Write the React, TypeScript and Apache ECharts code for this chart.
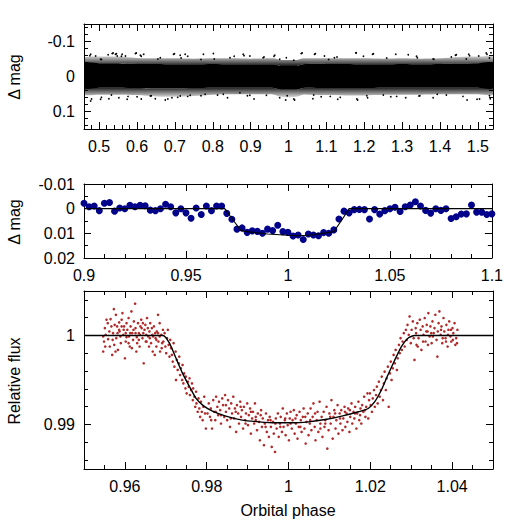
import React, { useEffect, useRef } from 'react';
import * as echarts from 'echarts';

const FONT = '"Liberation Sans", Arial, Helvetica, sans-serif';

// ---------- Panel 1 (full light curve) ----------
const topXTicks = [0.5, 0.6, 0.7, 0.8, 0.9, 1, 1.1, 1.2, 1.3, 1.4, 1.5];
const topYTicks = [-0.1, 0, 0.1];
const bandPhase = [0.46, 0.5, 0.55, 0.6, 0.65, 0.7, 0.75, 0.8, 0.85, 0.9, 0.95, 0.962, 0.975, 0.99, 1.01, 1.025, 1.038, 1.05, 1.1, 1.15, 1.2, 1.25, 1.3, 1.35, 1.4, 1.45, 1.5, 1.54];
const bandFringeTop = [-0.054, -0.057, -0.057, -0.053, -0.052, -0.052, -0.051, -0.052, -0.052, -0.051, -0.052, -0.052, -0.048, -0.047, -0.047, -0.048, -0.052, -0.052, -0.052, -0.052, -0.052, -0.051, -0.052, -0.051, -0.052, -0.056, -0.057, -0.058];
const bandCoreTop = [-0.037, -0.038, -0.038, -0.036, -0.036, -0.035, -0.035, -0.036, -0.035, -0.035, -0.035, -0.035, -0.031, -0.030, -0.030, -0.031, -0.035, -0.036, -0.036, -0.036, -0.035, -0.035, -0.036, -0.035, -0.036, -0.037, -0.038, -0.038];
const bandCoreBottom = [0.032, 0.032, 0.032, 0.033, 0.034, 0.034, 0.033, 0.032, 0.032, 0.032, 0.032, 0.033, 0.037, 0.038, 0.038, 0.037, 0.033, 0.032, 0.033, 0.033, 0.033, 0.032, 0.032, 0.032, 0.032, 0.032, 0.032, 0.032];
const bandFringeBottom = [0.052, 0.052, 0.052, 0.053, 0.057, 0.058, 0.056, 0.052, 0.051, 0.051, 0.051, 0.052, 0.057, 0.059, 0.059, 0.057, 0.052, 0.052, 0.053, 0.054, 0.054, 0.052, 0.052, 0.052, 0.051, 0.051, 0.051, 0.052];
const topOutliers: [number, number][] = [
  [0.4755, -0.0596], [0.5061, -0.0484], [0.5236, -0.0624], [0.5368, -0.0671], [0.5455, -0.0653], [0.5587, -0.0577], [0.5981, -0.0671], [0.6112, -0.0577], [0.655, -0.0502], [0.6988, -0.0653], [0.7163, -0.0531], [0.7688, -0.0484], [0.8039, -0.0502], [0.8564, -0.0577], [0.8827, -0.0596], [0.9352, -0.0559], [0.9615, -0.0577], [1.0359, -0.0671], [1.0709, -0.0653], [1.106, -0.0484], [1.1279, -0.0559], [1.1786, -0.0671], [1.2242, -0.0653], [1.2592, -0.0531], [1.3161, -0.0624], [1.338, -0.0577], [1.3818, -0.0502], [1.4299, -0.0559], [1.4431, -0.0624], [1.4781, -0.0596], [1.5219, -0.0671], [1.5306, -0.0531], [1.4694, -0.0502], [1.1979, -0.0577], [1.014, -0.0465], [0.7338, -0.0577],
  [0.4799, 0.0643], [0.5061, 0.0596], [0.5324, 0.0531], [0.5762, 0.0568], [0.6112, 0.0643], [0.6375, 0.0549], [0.6813, 0.0643], [0.7075, 0.0596], [0.7338, 0.0568], [0.7688, 0.0549], [0.8126, 0.0531], [0.8389, 0.0606], [0.8914, 0.0549], [0.9089, 0.0643], [0.9965, 0.0549], [1.014, 0.0643], [1.0665, 0.0531], [1.1103, 0.0568], [1.1366, 0.0596], [1.1804, 0.0643], [1.2067, 0.0549], [1.2504, 0.0531], [1.2855, 0.0568], [1.3468, 0.0549], [1.3818, 0.0606], [1.4168, 0.0531], [1.4606, 0.0568], [1.5044, 0.0643], [1.5306, 0.0549],
  [0.4775, -0.0633], [0.4907, -0.0586], [0.5038, -0.049], [0.5344, -0.066], [0.5432, -0.0633], [0.5476, -0.0586], [0.5607, -0.0633], [0.5695, -0.0586], [0.5957, -0.066], [0.6089, -0.0605], [0.6176, -0.0633], [0.6614, -0.0538], [0.6965, -0.0633], [0.714, -0.0605], [0.7271, -0.0633], [0.7753, -0.0633], [0.8016, -0.066], [0.8454, -0.0538], [0.8804, -0.0633], [0.8979, -0.0586], [0.9329, -0.0538], [0.9636, -0.0605], [0.9767, -0.049], [0.9942, -0.0538],
  [0.4775, 0.07], [0.5038, 0.0652], [0.5257, 0.0633], [0.552, 0.0605], [0.5739, 0.0652], [0.6001, 0.0576], [0.6352, 0.0557], [0.6483, 0.0633], [0.6746, 0.0671], [0.6921, 0.0605], [0.714, 0.0557], [0.7403, 0.0538], [0.7797, 0.051], [0.8278, 0.051], [0.8716, 0.0462], [0.8979, 0.0538], [0.9417, 0.0538], [0.9767, 0.0605], [0.9925, 0.0671],
  [1.0336, -0.066], [1.0687, -0.0633], [1.0949, -0.0586], [1.1212, -0.0538], [1.1781, -0.0681], [1.2219, -0.0633], [1.2832, -0.0633], [1.3402, -0.0538], [1.3839, -0.049], [1.4409, -0.0605], [1.4759, -0.0633], [1.5022, -0.0586], [1.5241, -0.0633], [1.5346, -0.0681],
  [1.0161, 0.0671], [1.0643, 0.0633], [1.0862, 0.0576], [1.13, 0.0652], [1.1825, 0.0671], [1.2088, 0.0605], [1.2701, 0.0576], [1.3095, 0.0605], [1.3445, 0.0557], [1.3927, 0.051], [1.4715, 0.0671], [1.4978, 0.0652], [1.5328, 0.0633],
];

// ---------- Panel 2 (binned) ----------
const midXTicks = [0.9, 0.95, 1, 1.05, 1.1];
const midYTicks = [-0.01, 0, 0.01, 0.02];
const midPhase = [0.9, 0.9025, 0.905, 0.9075, 0.91, 0.9125, 0.915, 0.9175, 0.92, 0.9225, 0.925, 0.9275, 0.93, 0.9325, 0.935, 0.9375, 0.94, 0.9425, 0.945, 0.9475, 0.95, 0.9525, 0.955, 0.9575, 0.96, 0.9625, 0.965, 0.9675, 0.97, 0.9725, 0.975, 0.9775, 0.98, 0.9825, 0.985, 0.9875, 0.99, 0.9925, 0.995, 0.9975, 1.0, 1.0025, 1.005, 1.0075, 1.01, 1.0125, 1.015, 1.0175, 1.02, 1.0225, 1.025, 1.0275, 1.03, 1.0325, 1.035, 1.0375, 1.04, 1.0425, 1.045, 1.0475, 1.05, 1.0525, 1.055, 1.0575, 1.06, 1.0625, 1.065, 1.0675, 1.07, 1.0725, 1.075, 1.0775, 1.08, 1.0825, 1.085, 1.0875, 1.09, 1.0925, 1.095, 1.0975, 1.1];
const midMag = [-0.0022, -0.0008, -0.0011, 0.0008, -0.0022, -0.0025, 0.001, -0.0003, 0, -0.0014, -0.0008, -0.0014, -0.0012, 0.0006, 0.0008, 0, -0.0018, -0.0008, 0.0017, 0, 0.0017, 0.0039, -0.0003, 0.0024, -0.0011, 0.0008, -0.0011, -0.0011, 0.0019, 0.0043, 0.0083, 0.0078, 0.0096, 0.009, 0.0092, 0.01, 0.0083, 0.0089, 0.0067, 0.0093, 0.0096, 0.0111, 0.0107,
  0.0125, 0.0103, 0.0107, 0.011, 0.0097, 0.01, 0.0086, 0.0042, 0.001, 0.0017, 0.0004, 0.0003, 0.0004, 0.0042, 0.0004, 0.0022, 0.0008, 0, -0.0006, 0.0011, -0.0008, -0.0015, -0.0028, -0.0011, 0.0007, 0.0018, 0, 0.0007, 0, 0.004, 0.0033, 0.0022, 0.0021, -0.0015, 0.0014, 0.0014, 0.0024, 0.0021];
const midModel: [number, number][] = [[0.9, 0], [0.969, 0], [0.973, 0.0045], [0.977, 0.0089], [0.98, 0.0093], [0.99, 0.0103], [1.0, 0.0108], [1.005, 0.011], [1.01, 0.0108], [1.018, 0.0099], [1.0225, 0.0093], [1.0265, 0.0045], [1.03, 0], [1.1, 0]];

// ---------- Panel 3 (relative flux) ----------
const botXTicks = [0.96, 0.98, 1, 1.02, 1.04];
const botYTicks = [0.99, 1];
const redPre: [number, number][] = [
  [0.9547, 0.99989], [0.9549, 0.99932], [0.9547, 0.9982], [0.9551, 1.00083], [0.9555, 1.00177], [0.9558, 1.00139], [0.9562, 1.00045], [0.9563, 0.99876], [0.9565, 1.00184], [0.9569, 0.99782], [0.9571, 1.00026], [0.9573, 1.00297], [0.9575, 1.0012], [0.9578, 1.00233], [0.9579, 0.9997], [0.9581, 1.00102], [0.9583, 0.99838], [0.9586, 1.00147], [0.9587, 1.00045], [0.959, 0.99914], [0.9592, 1.00177], [0.9594, 1.00252], [0.9596, 1.00008], [0.9598, 1.00102], [0.96, 0.99744], [0.9602, 0.99932], [0.9604, 1.00139], [0.9606, 1.00064], [0.9609, 1.00196], [0.961, 0.99989], [0.9612, 0.99876], [0.9614, 1.00102], [0.9616, 1.00271], [0.9618, 1.00026], [0.962, 0.99951], [0.9622, 1.00158], [0.9625, 1.00357], [0.9626, 1.00083], [0.9628, 0.9982], [0.963, 0.99914], [0.9632, 1.00139], [0.9634, 1.00026], [0.9636, 0.99876], [0.9638, 1.00102], [0.964, 1.00177], [0.9643, 0.9997], [0.9644, 1.00139], [0.9646, 0.99688], [0.9648, 1.00064], [0.9651, 0.99932], [0.9652, 1.00008], [0.9654, 1.00196], [0.9656, 1.00083], [0.9659, 0.99876], [0.966, 1.00045], [0.9662, 1.00139], [0.9664, 0.99914], [0.9667, 1.00008], [0.9668, 0.9982], [0.9671, 1.00102], [0.9673, 0.99782], [0.9675, 0.9997], [0.9677, 0.99876], [0.9678, 1.00045], [0.9681, 1.00233], [0.9682, 0.99932], [0.9685, 1.00139], [0.9686, 0.9982], [0.9689, 1.00008], [0.9691, 0.99914], [0.9693, 1.00064],
  [0.9553, 1.00008], [0.9559, 0.99959], [0.9567, 1.00102], [0.9574, 0.99895], [0.9582, 1.00026], [0.9589, 0.99989], [0.9597, 1.00064], [0.9604, 0.99981], [0.9613, 1.00026], [0.9621, 1.00064], [0.9629, 0.99981], [0.9637, 1.00008], [0.9645, 1.00026], [0.9653, 0.99932], [0.9661, 0.9997], [0.9669, 0.99989], [0.9677, 0.99951], [0.9685, 0.99989], [0.9552, 0.99876], [0.9577, 0.9982], [0.9592, 1.00102], [0.9609, 0.99914], [0.9626, 1.00026], [0.9641, 1.00083], [0.9657, 0.99989], [0.9674, 1.00026], [0.969, 0.99857], [0.957, 0.99951], [0.9586, 1.00064], [0.9602, 1.00026], [0.9617, 0.99857], [0.9634, 0.99951], [0.965, 1.0012], [0.9666, 1.00083], [0.9681, 1.00026],
];
const redIngress: [number, number][] = [
  [0.9694, 0.99932], [0.9697, 1.00026], [0.9699, 0.99876], [0.9701, 0.99801], [0.9703, 0.9997], [0.9705, 1.00064], [0.9707, 0.99895], [0.9709, 0.99763], [0.9711, 0.99951], [0.9713, 0.99857], [0.9715, 0.99782], [0.9717, 0.99707], [0.9719, 0.99914], [0.9721, 0.9965], [0.9724, 0.9982], [0.9725, 0.995], [0.9727, 0.99726], [0.9729, 0.99613], [0.9732, 0.99688], [0.9733, 0.99763], [0.9735, 0.99556], [0.9737, 0.99632], [0.974, 0.995], [0.9741, 0.99669], [0.9743, 0.99462], [0.9745, 0.99575], [0.9748, 0.99406], [0.9749, 0.99538], [0.9751, 0.9935], [0.9754, 0.99481], [0.9756, 0.99425], [0.9758, 0.99519], [0.9759, 0.99331], [0.9762, 0.99387], [0.9764, 0.99462], [0.9766, 0.99274], [0.9767, 0.99406], [0.977, 0.99312], [0.9772, 0.99199], [0.9774, 0.99368], [0.9775, 0.99237], [0.9778, 0.99143], [0.978, 0.99293], [0.9782, 0.9918], [0.9784, 0.99086], [0.9786, 0.99256], [0.9788, 0.99143], [0.979, 0.99049], [0.9792, 0.99199], [0.9794, 0.99312], [0.9796, 0.99124], [0.9798, 0.98955],
];
const redBottom: [number, number][] = [
  [0.9802, 0.99124], [0.9805, 0.99237], [0.9808, 0.99086], [0.981, 0.9918], [0.9813, 0.98955], [0.9816, 0.99274], [0.9818, 0.99143], [0.9821, 0.99049], [0.9823, 0.99312], [0.9826, 0.99199], [0.9828, 0.99105], [0.983, 0.99256], [0.9833, 0.99161], [0.9835, 0.99011], [0.9838, 0.99293], [0.984, 0.99218], [0.9843, 0.99086], [0.9845, 0.99331], [0.9847, 0.99143], [0.985, 0.99049], [0.9852, 0.99274], [0.9855, 0.9918], [0.9857, 0.98974], [0.986, 0.99237], [0.9862, 0.99124], [0.9865, 0.99312], [0.9867, 0.99068], [0.9869, 0.9918], [0.9872, 0.98917], [0.9874, 0.99218], [0.9877, 0.99124], [0.9879, 0.99011], [0.9882, 0.99256], [0.9884, 0.99086], [0.9886, 0.99161], [0.9889, 0.98955], [0.9891, 0.99199], [0.9894, 0.99049], [0.9896, 0.99124], [0.9899, 0.99237], [0.9901, 0.98992], [0.9903, 0.99105], [0.9906, 0.9918], [0.9908, 0.98898], [0.9911, 0.99068], [0.9913, 0.99143], [0.9916, 0.99011], [0.9918, 0.99237], [0.992, 0.99086], [0.9923, 0.98936], [0.9925, 0.99124], [0.9928, 0.9903], [0.993, 0.98823], [0.9933, 0.99161], [0.9935, 0.98974], [0.9937, 0.99068], [0.994, 0.98767], [0.9942, 0.99011], [0.9945, 0.99124], [0.9947, 0.98917], [0.995, 0.99049], [0.9952, 0.98861], [0.9954, 0.99086], [0.9957, 0.98974], [0.9959, 0.98748], [0.9962, 0.9903], [0.9964, 0.98898], [0.9967, 0.98692], [0.9969, 0.99068], [0.9971, 0.98955], [0.9974, 0.99124], [0.9976, 0.98861], [0.9979, 0.99011], [0.9981, 0.99086], [0.9984, 0.98917], [0.9986, 0.9918], [0.9988, 0.98974], [0.9991, 0.99049], [0.9993, 0.9888], [0.9996, 0.99124], [0.9998, 0.98992], [1.0001, 0.98823], [1.0003, 0.99068], [1.0005, 0.99143], [1.0008, 0.98955], [1.001, 0.99049], [1.0013, 0.99161], [1.0015, 0.98898], [1.0018, 0.99011], [1.002, 0.99105], [1.0022, 0.98842], [1.0025, 0.98974], [1.0027, 0.99143], [1.003, 0.99049], [1.0032, 0.98917], [1.0035, 0.99086], [1.0037, 0.9918], [1.0039, 0.98955], [1.0042, 0.98786], [1.0044, 0.9903], [1.0047, 0.99124], [1.0049, 0.9888], [1.0052, 0.99011], [1.0054, 0.9918], [1.0056, 0.98936], [1.0059, 0.99086], [1.0061, 0.99237], [1.0064, 0.98974], [1.0066, 0.98823], [1.0069, 0.99049], [1.0071, 0.99143], [1.0073, 0.98917], [1.0076, 0.99256], [1.0078, 0.99011], [1.0081, 0.99086], [1.0083, 0.98861], [1.0086, 0.99143], [1.0088, 0.98974], [1.009, 0.99049], [1.0093, 0.99199], [1.0095, 0.98729], [1.0098, 0.98936], [1.01, 0.99124], [1.0103, 0.99011], [1.0105, 0.99274], [1.0108, 0.98842], [1.011, 0.99086], [1.0112, 0.99161], [1.0115, 0.98955], [1.0117, 0.99049], [1.012, 0.99218], [1.0122, 0.98898], [1.0125, 0.99124], [1.0127, 0.99011], [1.0129, 0.99161], [1.0132, 0.98936], [1.0134, 0.99068], [1.0137, 0.99199], [1.0139, 0.98974], [1.0142, 0.99124], [1.0144, 0.9903], [1.0146, 0.9918], [1.0149, 0.98917], [1.0151, 0.99086], [1.0154, 0.99237], [1.0156, 0.99011], [1.0159, 0.99143], [1.0161, 0.99068], [1.0163, 0.99199], [1.0166, 0.98955], [1.0168, 0.99124], [1.0171, 0.99256], [1.0173, 0.99049], [1.0176, 0.9918], [1.0178, 0.99011], [1.018, 0.99218], [1.0183, 0.99143], [1.0185, 0.99312], [1.0188, 0.99086], [1.019, 0.99199], [1.0193, 0.9935], [1.0195, 0.99068], [1.0197, 0.99274],
  [0.9811, 0.99049], [0.9822, 0.99143], [0.9835, 0.99105], [0.9847, 0.99218], [0.9859, 0.99068], [0.9871, 0.99143], [0.9883, 0.99199], [0.9895, 0.99011], [0.9908, 0.99143], [0.992, 0.99049], [0.9932, 0.99105], [0.9944, 0.98974], [0.9956, 0.99049], [0.9968, 0.99011], [0.998, 0.98974], [0.9992, 0.99068], [1.0005, 0.99011], [1.0017, 0.99068], [1.0029, 0.98974], [1.0041, 0.99086], [1.0053, 0.99049], [1.0065, 0.99124], [1.0078, 0.98955], [1.009, 0.99011], [1.0102, 0.99086], [1.0114, 0.99124], [1.0126, 0.99068], [1.0138, 0.99143], [1.015, 0.99161], [1.0163, 0.99124], [1.0175, 0.99105], [1.0187, 0.99161],
];
const redEgress: [number, number][] = [
  [1.0199, 0.9935], [1.0201, 0.99218], [1.0204, 0.99143], [1.0206, 0.99293], [1.0209, 0.99387], [1.0211, 0.99199], [1.0214, 0.99331], [1.0216, 0.99425], [1.0218, 0.99237], [1.0221, 0.99481], [1.0223, 0.99312], [1.0226, 0.99387], [1.0228, 0.99538], [1.0231, 0.99274], [1.0233, 0.99462], [1.0235, 0.99594], [1.0238, 0.99387], [1.024, 0.99519], [1.0243, 0.9965], [1.0245, 0.99199], [1.0248, 0.99575], [1.025, 0.99707], [1.0252, 0.995], [1.0255, 0.99632], [1.0257, 0.99782], [1.026, 0.99688], [1.0262, 0.99838], [1.0265, 0.99613], [1.0267, 0.99744], [1.027, 0.99895], [1.0272, 0.99801], [1.0274, 0.9997], [1.0277, 0.99838], [1.0279, 0.99932], [1.0282, 1.00026], [1.0284, 0.99876], [1.0287, 1.00064], [1.0289, 0.99951], [1.0291, 1.0012], [1.0294, 1.00008], [1.0296, 1.00214], [1.0299, 0.99914], [1.0301, 1.00064], [1.0304, 1.00158], [1.0306, 0.9997], [1.0308, 0.99726], [1.0311, 1.00083], [1.0313, 0.99895],
];
const redPost: [number, number][] = [
  [1.0312, 1.00026], [1.0315, 1.00139], [1.0318, 0.9997], [1.0321, 1.00177], [1.0323, 1.00064], [1.0325, 0.99838], [1.0328, 1.00102], [1.033, 1.00008], [1.0333, 1.00196], [1.0335, 0.99932], [1.0338, 1.0012], [1.034, 1.00045], [1.0342, 1.00252], [1.0345, 0.99989], [1.0347, 1.00102], [1.035, 0.99914], [1.0352, 1.00158], [1.0355, 1.00026], [1.0357, 1.00083], [1.0359, 1.00233], [1.0362, 0.99951], [1.0364, 0.99763], [1.0367, 1.00139], [1.0369, 1.00271], [1.0372, 1.00008], [1.0374, 1.00102], [1.0376, 0.99914], [1.0379, 1.00196], [1.0381, 1.00045], [1.0384, 0.9997], [1.0386, 1.0012], [1.0389, 0.99876], [1.0391, 1.00064], [1.0393, 1.00158], [1.0396, 0.99989], [1.0398, 0.99932], [1.0401, 1.00083], [1.0403, 1.00026], [1.0406, 1.00139], [1.0408, 0.99895], [1.041, 0.9997], [1.0413, 1.00064], [1.0316, 0.99876], [1.0329, 0.99932], [1.0341, 0.99895], [1.0353, 0.99989], [1.0365, 1.00045], [1.0377, 0.9997], [1.039, 1.00008], [1.0402, 0.99951], [1.0412, 0.99914], [1.0337, 1.00045], [1.0349, 1.00026], [1.0373, 1.00064], [1.0385, 0.99932], [1.0397, 1.00064],
];
const botModel: [number, number][] = [[0.95, 1], [0.9693, 1], [0.9709, 0.99914], [0.9725, 0.99744], [0.9741, 0.99575], [0.9758, 0.99425], [0.9774, 0.99293], [0.979, 0.99218], [0.9814, 0.9915], [0.9847, 0.99094], [0.9887, 0.99049], [0.9928, 0.9903], [0.9968, 0.99019], [1.0009, 0.99019], [1.0049, 0.9903], [1.009, 0.99056], [1.013, 0.99094], [1.0171, 0.99143], [1.0195, 0.9918], [1.0211, 0.99256], [1.0227, 0.99387], [1.0243, 0.99556], [1.026, 0.99726], [1.0276, 0.99876], [1.0292, 0.9997], [1.0308, 1], [1.05, 1]];

// ---------- helpers ----------
function steps(min: number, max: number, step: number): number[] {
  const out: number[] = [];
  const n = Math.round((max - min) / step);
  for (let i = 0; i <= n; i++) out.push(+(min + i * step).toFixed(6));
  return out;
}
const fmt = (v: number) => String(parseFloat(Number(v).toFixed(4)));
const AX = '#000';

function xAxes(grid: number, min: number, max: number, ticks: number[], minor: number[]) {
  const base: any = { type: 'value', gridIndex: grid, min, max, splitLine: { show: false } };
  const line = { show: true, onZero: false, lineStyle: { color: AX, width: 1 } };
  return [
    { ...base, position: 'bottom', axisLine: line, axisTick: { show: true, inside: true, length: 7, customValues: ticks, lineStyle: { color: AX } },
      axisLabel: { show: true, customValues: ticks, formatter: fmt, color: '#000', fontSize: 16, fontFamily: FONT, margin: 9 } },
    { ...base, position: 'bottom', axisLine: { show: false, onZero: false }, axisTick: { show: true, inside: true, length: 4, customValues: minor, lineStyle: { color: AX } }, axisLabel: { show: false } },
    { ...base, position: 'top', axisLine: line, axisTick: { show: true, inside: true, length: 7, customValues: ticks, lineStyle: { color: AX } }, axisLabel: { show: false } },
    { ...base, position: 'top', axisLine: { show: false, onZero: false }, axisTick: { show: true, inside: true, length: 4, customValues: minor, lineStyle: { color: AX } }, axisLabel: { show: false } },
  ];
}
function yAxes(grid: number, min: number, max: number, inverse: boolean, ticks: number[], minor: number[]) {
  const base: any = { type: 'value', gridIndex: grid, min, max, inverse, splitLine: { show: false } };
  const line = { show: true, onZero: false, lineStyle: { color: AX, width: 1 } };
  return [
    { ...base, position: 'left', axisLine: line, axisTick: { show: true, inside: true, length: 7, customValues: ticks, lineStyle: { color: AX } },
      axisLabel: { show: true, customValues: ticks, formatter: fmt, color: '#000', fontSize: 16, fontFamily: FONT, margin: 9 } },
    { ...base, position: 'left', axisLine: { show: false, onZero: false }, axisTick: { show: true, inside: true, length: 4, customValues: minor, lineStyle: { color: AX } }, axisLabel: { show: false } },
    { ...base, position: 'right', axisLine: line, axisTick: { show: true, inside: true, length: 7, customValues: ticks, lineStyle: { color: AX } }, axisLabel: { show: false } },
    { ...base, position: 'right', axisLine: { show: false, onZero: false }, axisTick: { show: true, inside: true, length: 4, customValues: minor, lineStyle: { color: AX } }, axisLabel: { show: false } },
  ];
}

export default function App() {
  const ref = useRef<HTMLDivElement>(null);
  useEffect(() => {
    document.body.style.margin = '0';
    if (!ref.current) return;
    const chart = echarts.init(ref.current, undefined, { renderer: 'svg' });
    const gradTop = new echarts.graphic.LinearGradient(0, 0, 0, 1, [
      { offset: 0, color: 'rgba(0,0,0,0.15)' }, { offset: 0.6, color: 'rgba(0,0,0,0.6)' }, { offset: 1, color: 'rgba(0,0,0,0.92)' }]);
    const gradBot = new echarts.graphic.LinearGradient(0, 0, 0, 1, [
      { offset: 0, color: 'rgba(0,0,0,0.92)' }, { offset: 0.4, color: 'rgba(0,0,0,0.6)' }, { offset: 1, color: 'rgba(0,0,0,0.15)' }]);
    const option: any = {
      animation: false,
      backgroundColor: '#fff',
      grid: [
        { left: 84, top: 24, width: 409, height: 105 },
        { left: 84, top: 184, width: 409, height: 74 },
        { left: 84, top: 291, width: 409, height: 178 },
      ],
      xAxis: [
        ...xAxes(0, 0.46, 1.54, topXTicks, steps(0.46, 1.54, 0.02)),
        ...xAxes(1, 0.9, 1.1, midXTicks, steps(0.9, 1.1, 0.01)),
        ...xAxes(2, 0.95, 1.05, botXTicks, steps(0.95, 1.05, 0.005)),
      ],
      yAxis: [
        ...yAxes(0, -0.15, 0.15, true, topYTicks, steps(-0.14, 0.14, 0.02)),
        ...yAxes(1, -0.01, 0.02, true, midYTicks, steps(-0.01, 0.02, 0.005)),
        ...yAxes(2, 0.985, 1.005, false, botYTicks, steps(0.986, 1.004, 0.002)),
      ],
      graphic: [
        { type: 'text', x: 14, y: 77, rotation: Math.PI / 2, style: { text: 'Δ mag', font: `16px ${FONT}`, fill: '#000', align: 'center', verticalAlign: 'middle' } },
        { type: 'text', x: 14, y: 222, rotation: Math.PI / 2, style: { text: 'Δ mag', font: `16px ${FONT}`, fill: '#000', align: 'center', verticalAlign: 'middle' } },
        { type: 'text', x: 14, y: 381, rotation: Math.PI / 2, style: { text: 'Relative flux', font: `16px ${FONT}`, fill: '#000', align: 'center', verticalAlign: 'middle' } },
        { type: 'text', x: 288, y: 510, style: { text: 'Orbital phase', font: `16px ${FONT}`, fill: '#000', align: 'center', verticalAlign: 'middle' } },
      ],
      series: [
        {
          type: 'custom', xAxisIndex: 0, yAxisIndex: 0, clip: true, silent: true,
          data: [[1, 0]], encode: { x: 0, y: 1 },
          renderItem: (_p: any, api: any) => {
            const poly = (a: number[], b: number[]) => {
              const t = bandPhase.map((p, i) => api.coord([p, a[i]]));
              const u = bandPhase.map((p, i) => api.coord([p, b[i]])).reverse();
              return t.concat(u);
            };
            return {
              type: 'group', children: [
                { type: 'polygon', shape: { points: poly(bandFringeTop, bandCoreTop), smooth: 0.3 }, style: { fill: gradTop } },
                { type: 'polygon', shape: { points: poly(bandCoreTop, bandCoreBottom), smooth: 0.3 }, style: { fill: '#000' } },
                { type: 'polygon', shape: { points: poly(bandCoreBottom, bandFringeBottom), smooth: 0.3 }, style: { fill: gradBot } },
              ],
            };
          },
        },
        { type: 'scatter', xAxisIndex: 0, yAxisIndex: 0, data: topOutliers, symbolSize: 1.7, itemStyle: { color: '#000', opacity: 1 }, silent: true },
        { type: 'line', xAxisIndex: 4, yAxisIndex: 4, data: midModel, showSymbol: false, lineStyle: { color: '#000', width: 1.1 }, silent: true },
        { type: 'scatter', xAxisIndex: 4, yAxisIndex: 4, data: midPhase.map((p, i) => [p, midMag[i]]), symbolSize: 7, itemStyle: { color: '#02028a', opacity: 1 }, silent: true },
        { type: 'scatter', xAxisIndex: 8, yAxisIndex: 8, data: [...redPre, ...redIngress, ...redBottom, ...redEgress, ...redPost], symbolSize: 2.6, itemStyle: { color: '#b02a2a', opacity: 1 }, silent: true },
        { type: 'line', xAxisIndex: 8, yAxisIndex: 8, data: botModel, showSymbol: false, smooth: 0.2, lineStyle: { color: '#000', width: 1.4 }, silent: true },
      ],
    };
    chart.setOption(option);
    return () => chart.dispose();
  }, []);
  return <div ref={ref} style={{ position: 'absolute', left: 0, top: 0, width: 506, height: 521 }} />;
}
